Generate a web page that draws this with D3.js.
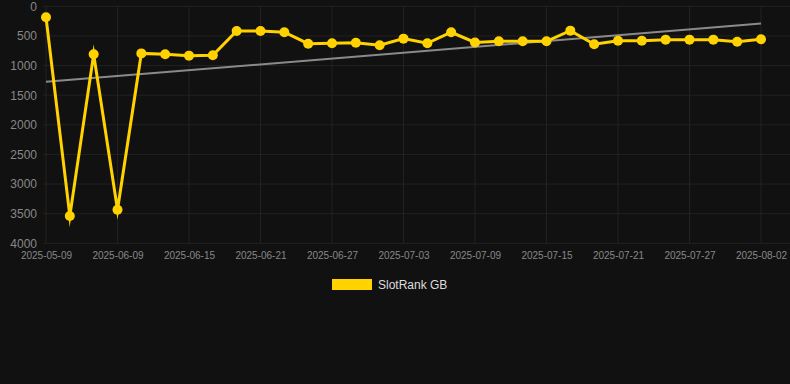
<!DOCTYPE html>
<html lang="en">
<head>
    <meta charset="UTF-8">
    <title>SlotRank GB</title>
    <script src="https://d3js.org/d3.v7.min.js"></script>
    <style>
        html, body {
            margin: 0;
            padding: 0;
            background: #111111;
        }
        svg {
            display: block;
            font-family: "Liberation Sans", Arial, sans-serif;
        }
    </style>
</head>
<body>
<svg id="chart" width="790" height="384"></svg>
<script>
    // Categories (dates), only every 3rd one is labelled
    const dates = [
        "2025-05-09", "2025-05-19", "2025-05-30", "2025-06-09", "2025-06-11", "2025-06-13",
        "2025-06-15", "2025-06-17", "2025-06-19", "2025-06-21", "2025-06-23", "2025-06-25",
        "2025-06-27", "2025-06-29", "2025-07-01", "2025-07-03", "2025-07-05", "2025-07-07",
        "2025-07-09", "2025-07-11", "2025-07-13", "2025-07-15", "2025-07-17", "2025-07-19",
        "2025-07-21", "2025-07-23", "2025-07-25", "2025-07-27", "2025-07-29", "2025-07-31",
        "2025-08-02"
    ];

    // SlotRank GB values
    const ranks = [
        185, 3540, 810, 3435, 795, 810, 833, 826, 417, 417, 438, 631,
        624, 614, 658, 546, 624, 438, 610, 590, 590, 590, 411, 641,
        580, 580, 563, 563, 563, 597, 556
    ];

    // trend line, start and end values
    const trend = [1275, 292];

    const yTicks = [0, 500, 1000, 1500, 2000, 2500, 3000, 3500, 4000];

    const svg = d3.select("#chart");

    const x = d3.scalePoint()
        .domain(dates)
        .range([46, 761]);

    const y = d3.scaleLinear()
        .domain([0, 4000])
        .range([6.3, 243.3]);

    // grid
    svg.append("g")
        .selectAll("line")
        .data(yTicks)
        .enter().append("line")
        .attr("x1", 43)
        .attr("x2", 790)
        .attr("y1", d => y(d))
        .attr("y2", d => y(d))
        .attr("stroke", "#222222")
        .attr("stroke-width", 1);

    const labelled = dates.filter((d, i) => i % 3 === 0);

    svg.append("g")
        .selectAll("line")
        .data(labelled)
        .enter().append("line")
        .attr("x1", d => x(d))
        .attr("x2", d => x(d))
        .attr("y1", y(0))
        .attr("y2", y(4000))
        .attr("stroke", "#222222")
        .attr("stroke-width", 1);

    // y axis labels
    const yAxis = svg.append("g")
        .attr("transform", "translate(37,0)")
        .call(d3.axisLeft(y).tickValues(yTicks).tickFormat(d3.format("d")).tickSize(0).tickPadding(0));
    yAxis.select(".domain").remove();
    yAxis.selectAll("text")
        .attr("fill", "#888888")
        .attr("font-size", 12)
        .attr("font-family", "Liberation Sans, Arial, sans-serif");

    // x axis labels
    const xAxis = svg.append("g")
        .attr("transform", "translate(0,252)")
        .call(d3.axisBottom(x).tickValues(labelled).tickSize(0).tickPadding(0));
    xAxis.select(".domain").remove();
    xAxis.selectAll("text")
        .attr("fill", "#888888")
        .attr("font-size", 10)
        .attr("font-family", "Liberation Sans, Arial, sans-serif");

    // trend line
    svg.append("line")
        .attr("x1", x(dates[0]))
        .attr("x2", x(dates[dates.length - 1]))
        .attr("y1", y(trend[0]))
        .attr("y2", y(trend[1]))
        .attr("stroke", "#8a8a8a")
        .attr("stroke-width", 2);

    // main line
    const line = d3.line()
        .x((d, i) => x(dates[i]))
        .y(d => y(d));

    svg.append("path")
        .datum(ranks)
        .attr("fill", "none")
        .attr("stroke", "#ffd200")
        .attr("stroke-width", 3)
        .attr("stroke-linejoin", "miter")
        .attr("stroke-miterlimit", 10)
        .attr("d", line);

    svg.append("g")
        .selectAll("circle")
        .data(ranks)
        .enter().append("circle")
        .attr("cx", (d, i) => x(dates[i]))
        .attr("cy", d => y(d))
        .attr("r", 5)
        .attr("fill", "#ffd200");

    // legend
    const legend = svg.append("g").attr("transform", "translate(332,279)");
    legend.append("rect")
        .attr("width", 40)
        .attr("height", 11)
        .attr("fill", "#ffd200");
    legend.append("text")
        .attr("x", 46)
        .attr("y", 10)
        .attr("fill", "#dddddd")
        .attr("font-size", 12)
        .text("SlotRank GB");
</script>
</body>
</html>
